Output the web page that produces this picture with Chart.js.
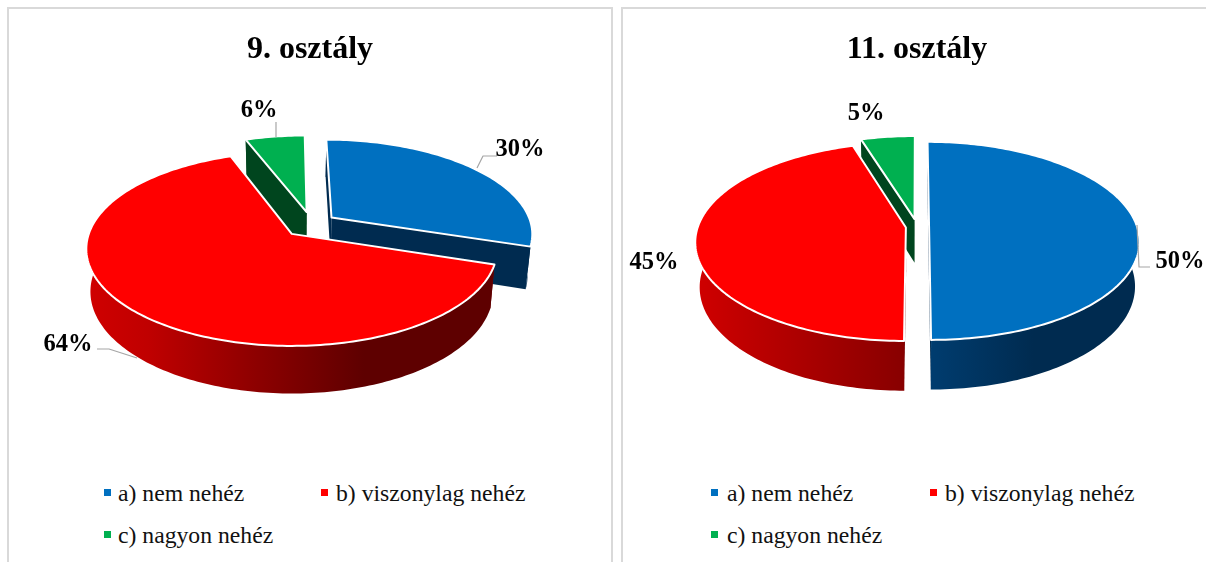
<!DOCTYPE html>
<html lang="hu">
<head>
<meta charset="utf-8">
<title>Nehézség</title>
<script src="https://cdn.jsdelivr.net/npm/chart.js@4"></script>
<style>
html, body { margin: 0; padding: 0; background: #fff; overflow: hidden; width: 1206px; height: 562px; }
.panel { position: absolute; top: 7px; height: 600px; border: 2px solid #d9d9d9; box-sizing: border-box; }
canvas { position: absolute; top: 0; }
.legend-item { position: absolute; font: 23.7px "Liberation Serif", serif; color: #111; line-height: 26px; white-space: nowrap; }
.legend-item i { position: absolute; left: -15px; top: 9px; width: 7px; height: 7px; }
</style>
</head>
<body>
<div class="panel" style="left:7px;width:606px"></div>
<div class="panel" style="left:621px;width:600px"></div>
<canvas id="chart9" width="604" height="470" style="left:8px"></canvas>
<canvas id="chart11" width="588" height="470" style="left:623px"></canvas>
<div id="legends"></div>
<script>
const CATEGORIES = ['a) nem nehéz', 'b) viszonylag nehéz', 'c) nagyon nehéz'];
// the printed labels are rounded, slice widths read a little finer than that
const VALUES_9 = [30, 64.4, 5.6];
const VALUES_11 = [50, 45.2, 4.8];
const TITLE_9 = '9. osztály';
const TITLE_11 = '11. osztály';
const EXPLODE_9 = [12.5, 14.4, 13.7];
const EXPLODE_11 = [5.8, 5.4, 8];

const TOP_COLORS = ['#0070c0', '#ff0000', '#00b050'];
const FACE_COLORS = ['#002b50', '#7a0000', '#00451e'];

// canvas pixels = page pixels minus the canvas left edge
const VIEW_9 = {
    left: 8, ox: 292, oy: 234, R: 203, a: 94.7, k: 0.155, cx: 0.0987, cy: 0.105, drop: 42,
    walls: [
        [[0, '#002b50'], [1, '#002b50']],
        [[0, '#d00000'], [0.15, '#c00000'], [0.4, '#900000'], [0.68, '#5e0000'], [1, '#5e0000']],
        [[0, '#00451e'], [1, '#00451e']]
    ],
    labels: [[520, 150], [68, 345], [259, 111]],
    leaders: [
        [[477, 168], [483, 156], [497, 156]],
        [[97, 349], [109, 349], [137, 358]],
        [[276, 122], [276, 137]]
    ]
};
const VIEW_11 = {
    left: 623, ox: 917, oy: 226.7, R: 208, a: 97, k: 0.143, cx: 0, cy: 0, drop: 44,
    walls: [
        [[0, '#003d70'], [0.5, '#002b50'], [1, '#002b50']],
        [[0, '#d00000'], [1, '#880000']],
        [[0, '#00451e'], [1, '#00451e']]
    ],
    labels: [[1180, 262], [654, 263], [866, 114]],
    leaders: [
        [[1137, 225], [1139, 267], [1150, 267]],
        [],
        []
    ]
};

const pie3d = {
    id: 'pie3d',
    // arcs get their angles from the library, only the projection is ours
    beforeDatasetDraw(chart) {
        const view = chart.options.plugins.pie3d;
        const ctx = chart.ctx;
        const arcs = chart.getDatasetMeta(0).data;
        const slices = arcs.map((arc, i) => buildSlice(arc, i, view));
        slices.sort((p, q) => q.depthY - p.depthY);
        slices.forEach(s => drawSlice(ctx, s, view));
        return false;
    },
    afterDatasetsDraw(chart) {
        const view = chart.options.plugins.pie3d;
        const ctx = chart.ctx;
        const values = chart.data.datasets[0].data;
        ctx.save();
        ctx.strokeStyle = '#a6a6a6';
        ctx.lineWidth = 1.2;
        view.leaders.forEach(line => {
            if (!line.length) return;
            ctx.beginPath();
            line.forEach((p, i) => i ? ctx.lineTo(p[0] - view.left, p[1]) : ctx.moveTo(p[0] - view.left, p[1]));
            ctx.stroke();
        });
        ctx.fillStyle = '#000';
        ctx.font = 'bold 24.5px "Liberation Serif", serif';
        ctx.textAlign = 'center';
        ctx.textBaseline = 'middle';
        values.forEach((v, i) => {
            ctx.fillText(Math.round(v) + '%', view.labels[i][0] - view.left, view.labels[i][1]);
        });
        ctx.restore();
    }
};

function project(view, X, Y) {
    const w = 1 + view.k * Y;
    return [view.ox - view.left + view.R * X / w, view.oy - view.a * Y / w];
}

// the wall foot: a bit narrower than the top and pushed down
function foot(view, p) {
    const x0 = view.ox - view.left;
    return [x0 + (p[0] - x0) * 0.98, view.oy + (p[1] - view.oy) * 1.05 + view.drop];
}

function buildSlice(arc, index, view) {
    const start = arc.startAngle;
    const end = arc.endAngle;
    const mid = (start + end) / 2;
    const off = arc.options.offset / 100;
    const bx = view.cx + Math.cos(mid) * off;
    const by = view.cy - Math.sin(mid) * off;
    const rim = [];
    const steps = Math.max(8, Math.ceil((end - start) / 0.02));
    for (let i = 0; i <= steps; i++) {
        const t = start + (end - start) * i / steps;
        rim.push(project(view, bx + Math.cos(t), by - Math.sin(t)));
    }
    return { index, rim, apex: project(view, bx, by), depthY: by - Math.sin(mid) * 0.5 };
}

function fillPath(ctx, pts, style) {
    ctx.beginPath();
    pts.forEach((p, i) => i ? ctx.lineTo(p[0], p[1]) : ctx.moveTo(p[0], p[1]));
    ctx.closePath();
    ctx.fillStyle = style;
    ctx.fill();
}

function drawSlice(ctx, s, view) {
    const rim = s.rim;
    const rimFoot = rim.map(p => foot(view, p));
    const apexFoot = foot(view, s.apex);
    const face = FACE_COLORS[s.index];

    fillPath(ctx, [s.apex, rim[0], rimFoot[0], apexFoot], face);
    fillPath(ctx, [s.apex, rim[rim.length - 1], rimFoot[rim.length - 1], apexFoot], face);

    const xs = rim.map(p => p[0]);
    const grad = ctx.createLinearGradient(Math.min(...xs), 0, Math.max(...xs), 0);
    view.walls[s.index].forEach(st => grad.addColorStop(st[0], st[1]));
    fillPath(ctx, rim.concat(rimFoot.slice().reverse()), grad);

    const top = [s.apex].concat(rim);
    fillPath(ctx, top, TOP_COLORS[s.index]);
    ctx.strokeStyle = '#fff';
    ctx.lineWidth = 2;
    ctx.lineJoin = 'round';
    ctx.stroke();
}

function makeChart(id, title, values, explode, view) {
    return new Chart(document.getElementById(id), {
        type: 'pie',
        data: {
            labels: CATEGORIES,
            datasets: [{
                data: values,
                backgroundColor: TOP_COLORS,
                offset: explode
            }]
        },
        options: {
            responsive: false,
            animation: false,
            plugins: {
                legend: { display: false },
                tooltip: { enabled: false },
                title: {
                    display: true,
                    text: title,
                    color: '#000',
                    font: { family: '"Liberation Serif", serif', size: 32, weight: 'bold' },
                    padding: { top: 31, bottom: 10 }
                },
                pie3d: view
            }
        },
        plugins: [pie3d]
    });
}

function addLegend(xMarks, xText) {
    const host = document.getElementById('legends');
    const rows = [480, 522];
    const place = [[0, 0], [1, 0], [0, 1]];
    CATEGORIES.forEach((name, i) => {
        const el = document.createElement('div');
        el.className = 'legend-item';
        el.style.left = xText[place[i][0]] + 'px';
        el.style.top = rows[place[i][1]] + 'px';
        el.textContent = name;
        const mark = document.createElement('i');
        mark.style.background = TOP_COLORS[i];
        mark.style.left = (xMarks[place[i][0]] - xText[place[i][0]]) + 'px';
        el.appendChild(mark);
        host.appendChild(el);
    });
}

makeChart('chart9', TITLE_9, VALUES_9, EXPLODE_9, VIEW_9);
makeChart('chart11', TITLE_11, VALUES_11, EXPLODE_11, VIEW_11);
addLegend([104, 321], [118, 336]);
addLegend([711, 930], [727, 945]);
</script>
</body>
</html>
